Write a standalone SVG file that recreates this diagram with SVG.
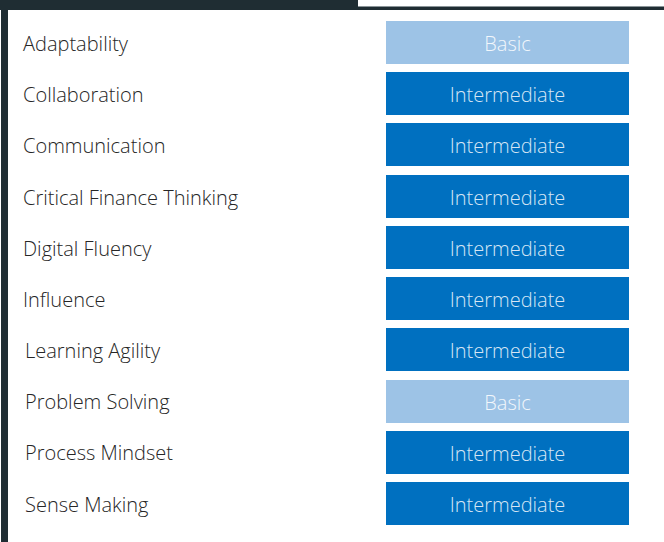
<svg xmlns="http://www.w3.org/2000/svg" width="664" height="542" viewBox="0 0 664 542">
<style>
.lbl{font-family:"Open Sans","Noto Sans","Liberation Sans",sans-serif;font-weight:300;font-size:20px;fill:#262626}
.box{stroke:none}
.int{fill:#0070c0}
.bas{fill:#9dc3e6}
.bt{font-family:"Open Sans","Noto Sans","Liberation Sans",sans-serif;font-weight:300;font-size:20px;text-anchor:middle}
.ti{fill:#d6e6f5}
.tb{fill:#f2f7fc}
</style>
<rect x="0" y="0" width="664" height="542" fill="#ffffff"/>
<g id="frame">
<rect x="0" y="0" width="664" height="10" fill="#1f2d33"/>
<rect x="358" y="0" width="306" height="6" fill="#ffffff"/>
<rect x="358" y="6" width="306" height="1" fill="#8a9498"/>
<rect x="1" y="0" width="7" height="542" fill="#1f2d33"/>
</g>
<g id="connectors"></g>
<g id="row-adaptability"><text class="lbl" x="23" y="51">Adaptability</text><rect class="box bas" x="386" y="21" width="243" height="43"/><text class="bt tb" x="507.5" y="51">Basic</text></g>
<g id="row-collaboration"><text class="lbl" x="23" y="102">Collaboration</text><rect class="box int" x="386" y="72" width="243" height="43"/><text class="bt ti" x="507.5" y="102">Intermediate</text></g>
<g id="row-communication"><text class="lbl" x="23" y="153">Communication</text><rect class="box int" x="386" y="123" width="243" height="43"/><text class="bt ti" x="507.5" y="153">Intermediate</text></g>
<g id="row-critical"><text class="lbl" x="23" y="205">Critical Finance Thinking</text><rect class="box int" x="386" y="175" width="243" height="43"/><text class="bt ti" x="507.5" y="205">Intermediate</text></g>
<g id="row-digital"><text class="lbl" x="23" y="256">Digital Fluency</text><rect class="box int" x="386" y="226" width="243" height="43"/><text class="bt ti" x="507.5" y="256">Intermediate</text></g>
<g id="row-influence"><text class="lbl" x="23" y="307">Influence</text><rect class="box int" x="386" y="277" width="243" height="43"/><text class="bt ti" x="507.5" y="307">Intermediate</text></g>
<g id="row-learning"><text class="lbl" x="25" y="358">Learning Agility</text><rect class="box int" x="386" y="328" width="243" height="43"/><text class="bt ti" x="507.5" y="358">Intermediate</text></g>
<g id="row-problem"><text class="lbl" x="25" y="409">Problem Solving</text><rect class="box bas" x="386" y="380" width="243" height="43"/><text class="bt tb" x="507.5" y="410">Basic</text></g>
<g id="row-process"><text class="lbl" x="25" y="460">Process Mindset</text><rect class="box int" x="386" y="431" width="243" height="43"/><text class="bt ti" x="507.5" y="461">Intermediate</text></g>
<g id="row-sense"><text class="lbl" x="25" y="512">Sense Making</text><rect class="box int" x="386" y="482" width="243" height="43"/><text class="bt ti" x="507.5" y="512">Intermediate</text></g>
</svg>
